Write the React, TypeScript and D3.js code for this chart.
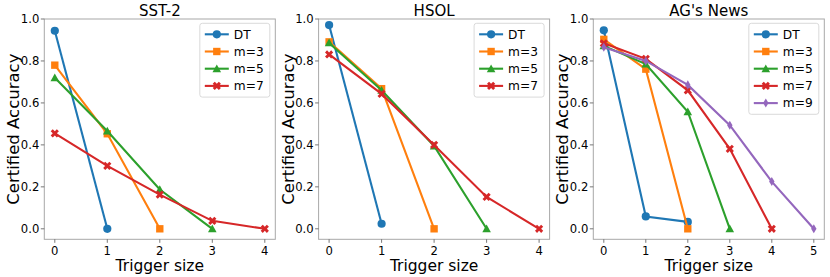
import React from 'react';
import * as d3 from 'd3';

const seriesNames = ['DT', 'm=3', 'm=5', 'm=7', 'm=9'];
const colors = ['#1f77b4', '#ff7f0e', '#2ca02c', '#d62728', '#9467bd'];
const markers = ['circle', 'square', 'triangle', 'x', 'thinDiamond'];

const sst2 = [
  [0.944, 0.0],
  [0.78, 0.453, 0.0],
  [0.72, 0.466, 0.187, 0.0],
  [0.455, 0.30, 0.163, 0.038, 0.0],
];
const hsol = [
  [0.971, 0.024],
  [0.891, 0.668, 0.0],
  [0.886, 0.66, 0.395, 0.0],
  [0.831, 0.643, 0.40, 0.152, 0.0],
];
const agNews = [
  [0.946, 0.059, 0.033],
  [0.903, 0.761, 0.0],
  [0.872, 0.785, 0.558, 0.0],
  [0.884, 0.81, 0.66, 0.381, 0.0],
  [0.865, 0.80, 0.686, 0.494, 0.225, 0.0],
];

const panels = [
  { title: 'SST-2', data: sst2, xMax: 4, left: 44.3 },
  { title: 'HSOL', data: hsol, xMax: 4, left: 318.6 },
  { title: "AG's News", data: agNews, xMax: 5, left: 593.3 },
];

const yTicks = [0.0, 0.2, 0.4, 0.6, 0.8, 1.0];
const W = 830;
const H = 277;
const plotW = 231;
const top = 19;
const bottom = 239.3;
const font = 'DejaVu Sans, sans-serif';

function markerPath(kind: string, r: number): string {
  switch (kind) {
    case 'circle':
      return d3.symbol(d3.symbolCircle, Math.PI * r * r)()!;
    case 'square': {
      const s = r * 0.9;
      return `M${-s},${-s}H${s}V${s}H${-s}Z`;
    }
    case 'triangle': {
      const s = r * 1.05;
      return `M0,${-s}L${s},${s * 0.8}L${-s},${s * 0.8}Z`;
    }
    case 'x': {
      const a = r * 1.0;
      const t = r * 0.5;
      // filled X built from two bars
      return `M${-a + t},${-a}L0,${-t}L${a - t},${-a}L${a},${-a + t}L${t},0L${a},${a - t}L${a - t},${a}L0,${t}L${-a + t},${a}L${-a},${a - t}L${-t},0L${-a},${-a + t}Z`;
    }
    case 'thinDiamond': {
      const h = r * 1.1;
      const w = r * 0.66;
      return `M0,${-h}L${w},0L0,${h}L${-w},0Z`;
    }
  }
  return '';
}

function Panel({ title, data, xMax, left }: { title: string; data: number[][]; xMax: number; left: number }) {
  const pad = xMax * 0.05;
  const x = d3.scaleLinear().domain([-pad, xMax + pad]).range([left, left + plotW]);
  const y = d3.scaleLinear().domain([-0.05, 1.0]).range([bottom, top]);
  const xTicks = d3.range(0, xMax + 1);
  const line = d3.line<number>().x((_, i) => x(i)).y((d) => y(d));
  const legendW = 70;
  const legendX = left + plotW - legendW - 5.5;
  const legendY = 23.3;
  const rowH = 17.2;
  const legendH = data.length * rowH + 5;
  const mr = 4.1;

  return (
    <g>
      <rect x={left} y={top} width={plotW} height={bottom - top} fill="white" stroke="#a8a8a8" strokeWidth={1} />
      {yTicks.map((t) => (
        <g key={t}>
          <line x1={left - 3.5} x2={left} y1={y(t)} y2={y(t)} stroke="#555" strokeWidth={0.8} />
          <text x={left - 5} y={y(t)} dy="0.36em" textAnchor="end" fontSize={11.6} fontFamily={font} fill="#000">
            {t.toFixed(1)}
          </text>
        </g>
      ))}
      {xTicks.map((t) => (
        <g key={t}>
          <line x1={x(t)} x2={x(t)} y1={bottom} y2={bottom + 3.5} stroke="#555" strokeWidth={0.8} />
          <text x={x(t)} y={bottom + 15.3} textAnchor="middle" fontSize={11.6} fontFamily={font} fill="#000">
            {t}
          </text>
        </g>
      ))}
      {data.map((vals, si) => (
        <g key={si}>
          <path d={line(vals)!} fill="none" stroke={colors[si]} strokeWidth={2.1} />
          {vals.map((v, i) => (
            <path key={i} d={markerPath(markers[si], mr)} transform={`translate(${x(i)},${y(v)})`} fill={colors[si]} />
          ))}
        </g>
      ))}
      <text x={left + plotW / 2} y={15.8} textAnchor="middle" fontSize={15} fontFamily={font} fill="#000">
        {title}
      </text>
      <text x={left + plotW / 2} y={270.5} textAnchor="middle" fontSize={15.5} fontFamily={font} fill="#000">
        Trigger size
      </text>
      <text
        transform={`translate(${left - 25},${(top + bottom) / 2}) rotate(-90)`}
        textAnchor="middle"
        fontSize={16.5}
        fontFamily={font}
        fill="#000"
      >
        Certified Accuracy
      </text>
      <rect x={legendX} y={legendY} width={legendW} height={legendH} rx={2.5} fill="white" fillOpacity={0.8} stroke="#d0d0d0" strokeWidth={0.8} />
      {data.map((_, si) => {
        const cy = legendY + 11 + si * rowH;
        return (
          <g key={si}>
            <line x1={legendX + 5} x2={legendX + 29} y1={cy} y2={cy} stroke={colors[si]} strokeWidth={2.1} />
            <path d={markerPath(markers[si], mr)} transform={`translate(${legendX + 17},${cy})`} fill={colors[si]} />
            <text x={legendX + 34} y={cy} dy="0.36em" fontSize={12.2} fontFamily={font} fill="#000">
              {seriesNames[si]}
            </text>
          </g>
        );
      })}
    </g>
  );
}

export default function App() {
  return (
    <svg width={W} height={H} style={{ position: 'absolute', left: 0, top: 0, background: 'white' }}>
      <rect width={W} height={H} fill="white" />
      {panels.map((p) => (
        <Panel key={p.title} {...p} />
      ))}
    </svg>
  );
}
